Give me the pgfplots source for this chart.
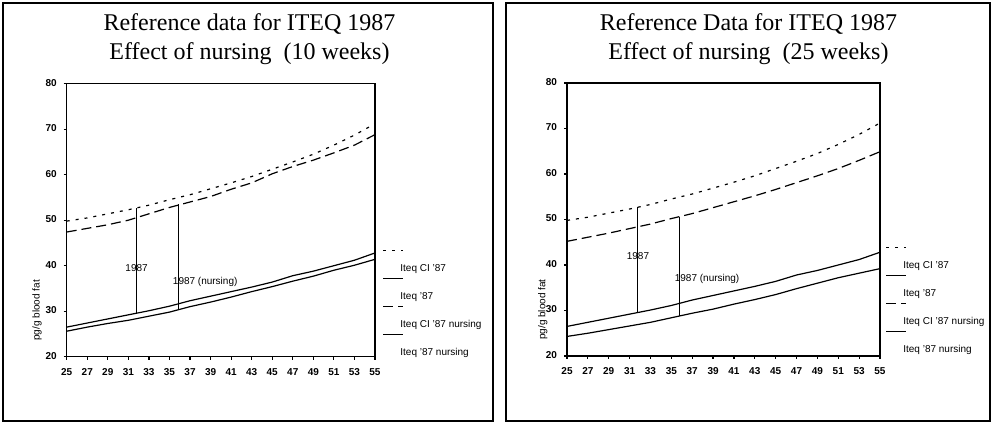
\documentclass[border=0pt]{standalone}
\usepackage{fontspec}
\setmainfont{Liberation Serif}
\setsansfont{Liberation Sans}
\usepackage{pgfplots}
\usepackage{pgfplotstable}
\pgfplotsset{compat=1.18}

% age, Iteq CI '87, Iteq '87, nursing 10 wk (CI, mean), nursing 25 wk (CI, mean)
\pgfplotstableread{
age ci87 iteq87 ci10 n10 ci25 n25
25 49.8 26.5 47.4 25.6 45.2 24.3
27 50.5 27.4 48.2 26.5 46.1 25.0
29 51.4 28.3 49.0 27.3 47.0 25.8
31 52.3 29.2 50.0 28.0 48.0 26.6
33 53.3 30.1 51.4 28.9 49.0 27.4
35 54.5 31.1 52.8 29.8 50.2 28.4
37 55.6 32.3 54.0 31.0 51.3 29.4
39 56.9 33.3 55.2 32.0 52.6 30.3
41 58.2 34.3 56.8 33.1 53.9 31.4
43 59.6 35.3 58.2 34.3 55.2 32.4
45 61.2 36.4 60.2 35.4 56.6 33.5
47 62.8 37.8 61.8 36.6 58.1 34.8
49 64.5 38.8 63.2 37.7 59.6 36.0
51 66.5 40.0 64.8 39.0 61.2 37.2
53 68.7 41.2 66.5 40.1 63.0 38.2
55 71.2 42.8 68.8 41.4 64.9 39.2
}\iteqdata

\newcommand{\smallsans}{\sffamily\fontsize{5}{6}\selectfont}

\pgfplotsset{
  panel/.style={
    scale only axis,
    height=136.5pt,
    xmin=25, xmax=55, ymin=20, ymax=80,
    xtick={25,27,...,55}, ytick={20,30,...,80},
    tick align=outside, tick pos=left,
    major tick length=1.5pt,
    tick style={black, line width=0.6pt},
    axis line style={line width=0.7pt},
    ticklabel style={font=\smallsans\bfseries},
    typeset ticklabels with strut,
    /pgf/number format/assume math mode=true,
    ylabel={pg/g blood fat},
    ylabel style={font=\smallsans, at={(axis description cs:-0.096,0.17)}, anchor=center},
    legend cell align=left,
    legend image code/.code={
      \draw[##1, overlay] (0pt,9pt) -- (10pt,9pt);
      \path[draw=none, fill=none] (0pt,0pt) -- (8.5pt,0pt);
    },
    legend style={draw=none, fill=none, inner sep=0pt, row sep=9pt,
      column sep=0pt, font=\smallsans,
      nodes={inner sep=0pt, text height=4pt, text depth=1pt},
      anchor=north west},
  },
  dotline/.style={black, line width=0.6pt, dash pattern=on 1.5pt off 3pt},
  dashline/.style={black, line width=0.6pt, dash pattern=on 5pt off 2.5pt},
  solidline/.style={black, line width=0.6pt},
}

\begin{document}
\begin{tikzpicture}
\useasboundingbox (0pt,0pt) rectangle (496pt,211pt);
\draw[line width=0.6pt] (1.5pt,0.5pt) rectangle (246.5pt,209.5pt);
\draw[line width=0.6pt] (253pt,0.5pt) rectangle (495pt,209.5pt);

\node[font=\fontsize{12}{14}\selectfont] at (124.75pt,199pt) {Reference data for ITEQ 1987};
\node[font=\fontsize{12}{14}\selectfont] at (124.75pt,184pt) {Effect of nursing\ \ (10 weeks)};
\node[font=\fontsize{12}{14}\selectfont] at (374.25pt,199pt) {Reference Data for ITEQ 1987};
\node[font=\fontsize{12}{14}\selectfont] at (374.25pt,184pt) {Effect of nursing\ \ (25 weeks)};

% 10 weeks
\begin{axis}[panel, at={(33.35pt,32.65pt)}, anchor=south west, width=154.15pt,
  legend style={at={(1.026,0.343)}}]
  \addplot[dotline] table[x=age, y=ci87] {\iteqdata};
  \addlegendentry{Iteq CI '87}
  \addplot[solidline] table[x=age, y=iteq87] {\iteqdata};
  \addlegendentry{Iteq '87}
  \addplot[dashline] table[x=age, y=ci10] {\iteqdata};
  \addlegendentry{Iteq CI '87 nursing}
  \addplot[solidline] table[x=age, y=n10] {\iteqdata};
  \addlegendentry{Iteq '87 nursing}
  \addplot[solidline, line width=0.5pt, forget plot] coordinates {(31.8,29.56) (31.8,52.7)};
  \addplot[solidline, line width=0.5pt, forget plot] coordinates {(35.9,30.34) (35.9,53.5)};
  \node[font=\smallsans] at (axis cs:31.8,39.4) {1987};
  \node[font=\smallsans, anchor=west, inner sep=0pt] at (axis cs:35.3,36.5) {1987 (nursing)};
  \node[font=\smallsans, anchor=west, inner sep=0pt] at (rel axis cs:0.005,-0.17) {Age};
\end{axis}

% 25 weeks
\begin{axis}[panel, at={(283.5pt,33pt)}, anchor=south west, width=156.5pt,
  ylabel style={at={(axis description cs:-0.077,0.17)}},
  legend style={at={(1.019,0.352)}}]
  \addplot[dotline] table[x=age, y=ci87] {\iteqdata};
  \addlegendentry{Iteq CI '87}
  \addplot[solidline] table[x=age, y=iteq87] {\iteqdata};
  \addlegendentry{Iteq '87}
  \addplot[dashline] table[x=age, y=ci25] {\iteqdata};
  \addlegendentry{Iteq CI '87 nursing}
  \addplot[solidline] table[x=age, y=n25] {\iteqdata};
  \addlegendentry{Iteq '87 nursing}
  \addplot[solidline, line width=0.5pt, forget plot] coordinates {(31.8,29.56) (31.8,52.7)};
  \addplot[solidline, line width=0.5pt, forget plot] coordinates {(35.8,28.8) (35.8,50.64)};
  \node[font=\smallsans] at (axis cs:31.8,42) {1987};
  \node[font=\smallsans, anchor=west, inner sep=0pt] at (axis cs:35.3,37) {1987 (nursing)};
  \node[font=\smallsans, anchor=west, inner sep=0pt] at (rel axis cs:0.01,-0.18) {Age};
\end{axis}
\end{tikzpicture}
\end{document}
